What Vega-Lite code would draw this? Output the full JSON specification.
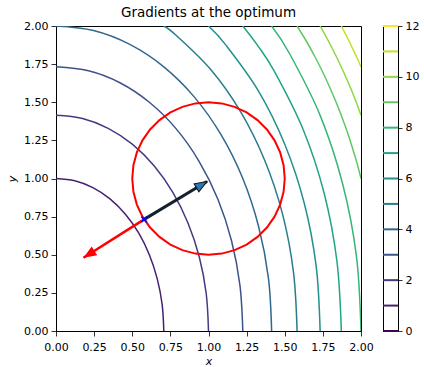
{
  "$schema": "https://vega.github.io/schema/vega-lite/v6.json",
  "padding": {"left": 6, "top": 5, "right": 5, "bottom": 5},
  "autosize": {"type": "pad"},
  "background": "white",
  "bounds": "flush",
  "spacing": 22,
  "config": {
    "font": "DejaVu Sans",
    "view": {"stroke": "black", "strokeWidth": 1},
    "axis": {"grid": false, "domain": false, "tickColor": "black", "tickSize": 5, "tickWidth": 0.8, "labelColor": "black", "labelFontSize": 11, "labelFont": "DejaVu Sans", "titleFont": "DejaVu Sans", "titleFontWeight": "normal", "titleColor": "black", "titleFontSize": 11, "labelPadding": 3, "labelOverlap": false, "labelFlush": false, "labelBound": false}
  },
  "resolve": {"scale": {"y": "independent", "x": "independent"}, "axis": {"y": "independent"}},
  "datasets": {
    "contours": [
      {"level":1,"i":0,"x":0.707,"y":0},{"level":1,"i":1,"x":0.696,"y":0.174},{"level":1,"i":2,"x":0.664,"y":0.342},{"level":1,"i":3,"x":0.612,"y":0.5},{"level":1,"i":4,"x":0.542,"y":0.643},{"level":1,"i":5,"x":0.455,"y":0.766},{"level":1,"i":6,"x":0.354,"y":0.866},{"level":1,"i":7,"x":0.242,"y":0.94},{"level":1,"i":8,"x":0.123,"y":0.985},{"level":1,"i":9,"x":0,"y":1},
      {"level":2,"i":0,"x":1,"y":0},{"level":2,"i":1,"x":0.985,"y":0.246},{"level":2,"i":2,"x":0.94,"y":0.484},{"level":2,"i":3,"x":0.866,"y":0.707},{"level":2,"i":4,"x":0.766,"y":0.909},{"level":2,"i":5,"x":0.643,"y":1.083},{"level":2,"i":6,"x":0.5,"y":1.225},{"level":2,"i":7,"x":0.342,"y":1.329},{"level":2,"i":8,"x":0.174,"y":1.393},{"level":2,"i":9,"x":0,"y":1.414},
      {"level":3,"i":0,"x":1.225,"y":0},{"level":3,"i":1,"x":1.206,"y":0.301},{"level":3,"i":2,"x":1.151,"y":0.592},{"level":3,"i":3,"x":1.061,"y":0.866},{"level":3,"i":4,"x":0.938,"y":1.113},{"level":3,"i":5,"x":0.787,"y":1.327},{"level":3,"i":6,"x":0.612,"y":1.5},{"level":3,"i":7,"x":0.419,"y":1.628},{"level":3,"i":8,"x":0.213,"y":1.706},{"level":3,"i":9,"x":0,"y":1.732},
      {"level":4,"i":0,"x":1.414,"y":0},{"level":4,"i":1,"x":1.393,"y":0.347},{"level":4,"i":2,"x":1.329,"y":0.684},{"level":4,"i":3,"x":1.225,"y":1},{"level":4,"i":4,"x":1.083,"y":1.286},{"level":4,"i":5,"x":0.909,"y":1.532},{"level":4,"i":6,"x":0.707,"y":1.732},{"level":4,"i":7,"x":0.484,"y":1.879},{"level":4,"i":8,"x":0.246,"y":1.97},{"level":4,"i":9,"x":0,"y":2},
      {"level":5,"i":0,"x":1.581,"y":0},{"level":5,"i":1,"x":1.557,"y":0.388},{"level":5,"i":2,"x":1.486,"y":0.765},{"level":5,"i":3,"x":1.369,"y":1.118},{"level":5,"i":4,"x":1.211,"y":1.437},{"level":5,"i":5,"x":1.016,"y":1.713},{"level":5,"i":6,"x":0.791,"y":1.936},{"level":5,"i":7,"x":0.707,"y":2},
      {"level":6,"i":0,"x":1.732,"y":0},{"level":6,"i":1,"x":1.706,"y":0.425},{"level":6,"i":2,"x":1.628,"y":0.838},{"level":6,"i":3,"x":1.5,"y":1.225},{"level":6,"i":4,"x":1.327,"y":1.575},{"level":6,"i":5,"x":1.113,"y":1.876},{"level":6,"i":6,"x":1,"y":2},
      {"level":7,"i":0,"x":1.871,"y":0},{"level":7,"i":1,"x":1.842,"y":0.459},{"level":7,"i":2,"x":1.758,"y":0.905},{"level":7,"i":3,"x":1.62,"y":1.323},{"level":7,"i":4,"x":1.433,"y":1.701},{"level":7,"i":5,"x":1.323,"y":1.871},{"level":7,"i":6,"x":1.225,"y":2},
      {"level":8,"i":0,"x":2,"y":0},{"level":8,"i":1,"x":1.97,"y":0.491},{"level":8,"i":2,"x":1.879,"y":0.967},{"level":8,"i":3,"x":1.732,"y":1.414},{"level":8,"i":4,"x":1.532,"y":1.818},{"level":8,"i":5,"x":1.414,"y":2},
      {"level":9,"i":0,"x":2,"y":1},{"level":9,"i":1,"x":1.974,"y":1.1},{"level":9,"i":2,"x":1.944,"y":1.2},{"level":9,"i":3,"x":1.912,"y":1.3},{"level":9,"i":4,"x":1.876,"y":1.4},{"level":9,"i":5,"x":1.837,"y":1.5},{"level":9,"i":6,"x":1.794,"y":1.6},{"level":9,"i":7,"x":1.748,"y":1.7},{"level":9,"i":8,"x":1.697,"y":1.8},{"level":9,"i":9,"x":1.642,"y":1.9},{"level":9,"i":10,"x":1.581,"y":2},
      {"level":10,"i":0,"x":2,"y":1.414},{"level":10,"i":1,"x":1.969,"y":1.5},{"level":10,"i":2,"x":1.929,"y":1.6},{"level":10,"i":3,"x":1.885,"y":1.7},{"level":10,"i":4,"x":1.838,"y":1.8},{"level":10,"i":5,"x":1.787,"y":1.9},{"level":10,"i":6,"x":1.732,"y":2},
      {"level":11,"i":0,"x":2,"y":1.732},{"level":11,"i":1,"x":1.97,"y":1.8},{"level":11,"i":2,"x":1.946,"y":1.85},{"level":11,"i":3,"x":1.922,"y":1.9},{"level":11,"i":4,"x":1.897,"y":1.95},{"level":11,"i":5,"x":1.871,"y":2}
    ],
    "circle": [
      {"i":0,"x":1.5,"y":1},{"i":1,"x":1.4924,"y":1.0868},{"i":2,"x":1.4698,"y":1.171},{"i":3,"x":1.433,"y":1.25},{"i":4,"x":1.383,"y":1.3214},{"i":5,"x":1.3214,"y":1.383},{"i":6,"x":1.25,"y":1.433},{"i":7,"x":1.171,"y":1.4698},{"i":8,"x":1.0868,"y":1.4924},{"i":9,"x":1,"y":1.5},
      {"i":10,"x":0.9132,"y":1.4924},{"i":11,"x":0.829,"y":1.4698},{"i":12,"x":0.75,"y":1.433},{"i":13,"x":0.6786,"y":1.383},{"i":14,"x":0.617,"y":1.3214},{"i":15,"x":0.567,"y":1.25},{"i":16,"x":0.5302,"y":1.171},{"i":17,"x":0.5076,"y":1.0868},{"i":18,"x":0.5,"y":1},
      {"i":19,"x":0.5076,"y":0.9132},{"i":20,"x":0.5302,"y":0.829},{"i":21,"x":0.567,"y":0.75},{"i":22,"x":0.617,"y":0.6786},{"i":23,"x":0.6786,"y":0.617},{"i":24,"x":0.75,"y":0.567},{"i":25,"x":0.829,"y":0.5302},{"i":26,"x":0.9132,"y":0.5076},{"i":27,"x":1,"y":0.5},
      {"i":28,"x":1.0868,"y":0.5076},{"i":29,"x":1.171,"y":0.5302},{"i":30,"x":1.25,"y":0.567},{"i":31,"x":1.3214,"y":0.617},{"i":32,"x":1.383,"y":0.6786},{"i":33,"x":1.433,"y":0.75},{"i":34,"x":1.4698,"y":0.829},{"i":35,"x":1.4924,"y":0.9132},{"i":36,"x":1.5,"y":1}
    ],
    "gradf": [{"x":0.578,"y":0.732,"tx":0.18,"ty":0.48}],
    "gradfHead": [{"x":0.18,"y":0.48}],
    "gradg": [{"x":0.578,"y":0.732,"tx":0.99,"ty":0.98}],
    "gradgHead": [{"x":0.99,"y":0.98}],
    "optimum": [{"x":0.578,"y":0.732}],
    "levels": [{"level":0},{"level":1},{"level":2},{"level":3},{"level":4},{"level":5},{"level":6},{"level":7},{"level":8},{"level":9},{"level":10},{"level":11},{"level":12}]
  },
  "hconcat": [
    {
      "width": 305,
      "height": 305,
      "title": {"text": "Gradients at the optimum", "fontSize": 13.5, "fontWeight": "normal", "anchor": "middle", "offset": 1, "color": "black", "font": "DejaVu Sans"},
      "encoding": {
        "x": {"field": "x", "type": "quantitative", "title": "x", "scale": {"domain": [0, 2], "nice": false, "zero": false}, "axis": {"values": [0, 0.25, 0.5, 0.75, 1, 1.25, 1.5, 1.75, 2], "format": ".2f", "titleFontStyle": "italic", "titlePadding": 3, "labelPadding": 5, "labelOverlap": false, "labelFlush": false}},
        "y": {"field": "y", "type": "quantitative", "title": "y", "scale": {"domain": [0, 2], "nice": false, "zero": false}, "axis": {"values": [0, 0.25, 0.5, 0.75, 1, 1.25, 1.5, 1.75, 2], "format": ".2f", "titleFontStyle": "italic", "titlePadding": 6, "labelOverlap": false, "labelFlush": false}}
      },
      "layer": [
        {
          "data": {"name": "contours"},
          "mark": {"type": "line", "interpolate": "cardinal", "strokeWidth": 1.5, "clip": true},
          "encoding": {
            "color": {"field": "level", "type": "quantitative", "scale": {"domain": [0, 12], "scheme": "viridis"}, "legend": null},
            "detail": {"field": "level", "type": "nominal"},
            "order": {"field": "i", "type": "quantitative"}
          }
        },
        {
          "data": {"name": "circle"},
          "mark": {"type": "line", "color": "#ff0000", "strokeWidth": 2},
          "encoding": {
            "order": {"field": "i", "type": "quantitative"}
          }
        },
        {
          "data": {"name": "gradf"},
          "mark": {"type": "rule", "color": "#ff0000", "strokeWidth": 2.5},
          "encoding": {
            "x2": {"field": "tx"},
            "y2": {"field": "ty"}
          }
        },
        {
          "data": {"name": "gradfHead"},
          "mark": {"type": "point", "shape": "M0,0L-1,-0.4L-1,0.4Z", "filled": true, "size": 680, "angle": 147.7, "color": "#ff0000", "opacity": 1},
          "encoding": {}
        },
        {
          "data": {"name": "gradg"},
          "mark": {"type": "rule", "color": "#14202a", "strokeWidth": 3},
          "encoding": {
            "x2": {"field": "tx"},
            "y2": {"field": "ty"}
          }
        },
        {
          "data": {"name": "gradgHead"},
          "mark": {"type": "point", "shape": "M0,0L-1,-0.38L-1,0.38Z", "filled": true, "size": 600, "angle": 329, "fill": "#2a77b4", "stroke": "#111111", "strokeWidth": 1, "opacity": 1},
          "encoding": {}
        },
        {
          "data": {"name": "optimum"},
          "mark": {"type": "point", "shape": "M-1,-1L1,1M-1,1L1,-1", "filled": false, "size": 30, "stroke": "#0000ff", "strokeWidth": 1.5, "opacity": 1},
          "encoding": {}
        }
      ]
    },
    {
      "width": 15,
      "height": 305,
      "data": {"name": "levels"},
      "mark": {"type": "rule", "strokeWidth": 2},
      "encoding": {
        "y": {"field": "level", "type": "quantitative", "scale": {"domain": [0, 12], "nice": false, "zero": false}, "axis": {"orient": "right", "values": [0, 2, 4, 6, 8, 10, 12], "title": null, "tickSize": 4, "labelPadding": 3}},
        "color": {"field": "level", "type": "quantitative", "scale": {"domain": [0, 12], "scheme": "viridis"}, "legend": null}
      }
    }
  ]
}
